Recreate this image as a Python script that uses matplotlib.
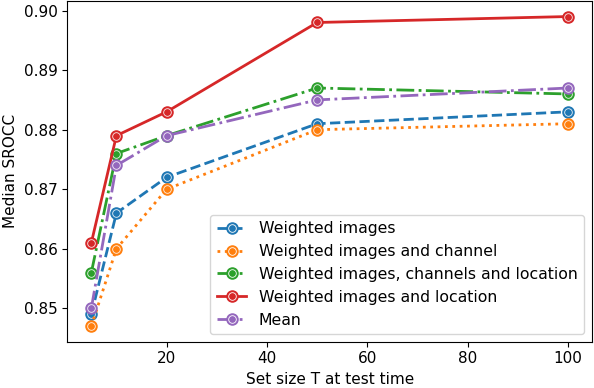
import matplotlib
matplotlib.use("Agg")
import matplotlib.pyplot as plt
from matplotlib.lines import Line2D

set_sizes = [5, 10, 20, 50, 100]
weighted_images = [0.849, 0.866, 0.872, 0.881, 0.883]
weighted_images_channel = [0.847, 0.860, 0.870, 0.880, 0.881]
weighted_images_channels_location = [0.856, 0.876, 0.879, 0.887, 0.886]
weighted_images_location = [0.861, 0.879, 0.883, 0.898, 0.899]
mean_values = [0.850, 0.874, 0.879, 0.885, 0.887]

labels = ["Weighted images", "Weighted images and channel",
          "Weighted images, channels and location",
          "Weighted images and location", "Mean"]
series = [weighted_images, weighted_images_channel,
          weighted_images_channels_location, weighted_images_location, mean_values]
colors = ["#1f77b4", "#ff7f0e", "#2ca02c", "#d62728", "#9467bd"]
styles = ["--", ":", "-.", "-", "-."]

plt.rcParams['font.size'] = 11
fig = plt.figure(figsize=(5.94, 3.88), dpi=100)
ax = fig.add_axes([0.1136, 0.1193, 0.883, 0.878])

handles = []
for y, lab, c, ls in zip(series, labels, colors, styles):
    ax.plot(set_sizes, y, linestyle=ls, color=c, linewidth=2, marker='o',
            markersize=8, markerfacecolor=c, markeredgecolor=c)
    ax.plot(set_sizes, y, linestyle='none', marker='o', markersize=5.5,
            markerfacecolor='none', markeredgecolor='white', markeredgewidth=0.6,
            alpha=0.9)
    h = (Line2D([], [], linestyle=ls, color=c, linewidth=2, marker='o', markersize=8,
                markerfacecolor=c, markeredgecolor=c),
         Line2D([], [], linestyle='none', marker='o', markersize=5.5,
                markerfacecolor='none', markeredgecolor='white', markeredgewidth=0.6))
    handles.append(h)

ax.set_xticks([20, 40, 60, 80, 100])
ax.set_yticks([0.85, 0.86, 0.87, 0.88, 0.89, 0.90])
ax.set_yticklabels(["0.85", "0.86", "0.87", "0.88", "0.89", "0.90"])
ax.set_xlabel("Set size T at test time")
ax.set_ylabel("Median SROCC")
ax.legend(handles, labels, loc="lower right", fontsize=11.3, handlelength=1.9)

fig.savefig("out.png", dpi=100)
